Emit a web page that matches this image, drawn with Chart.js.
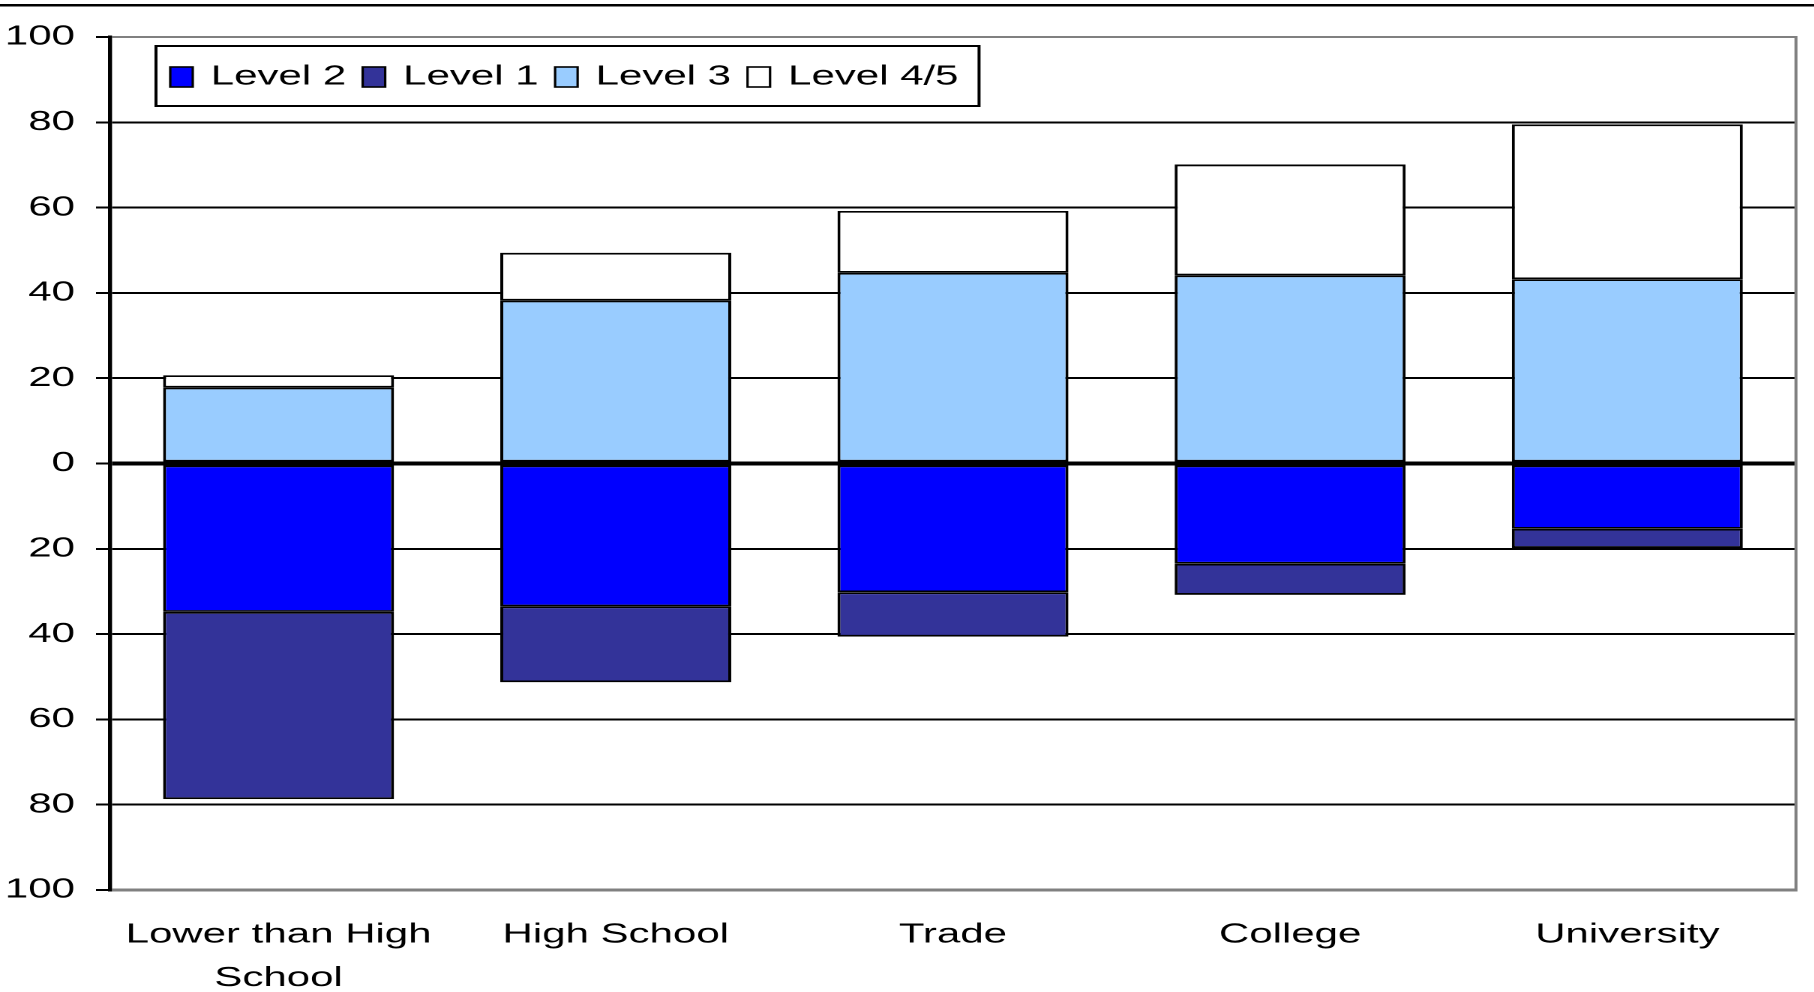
<!DOCTYPE html>
<html>
<head>
<meta charset="utf-8">
<script src="https://cdn.jsdelivr.net/npm/chart.js@4.4.1/dist/chart.umd.min.js"></script>
<style>
  html, body { margin: 0; padding: 0; background: #fff; overflow: hidden; }
  #wrap { width: 1209px; height: 992px; transform: scaleX(1.5); transform-origin: 0 0; }
  canvas { display: block; }
</style>
</head>
<body>
<div id="wrap"><canvas id="c" width="1209" height="992"></canvas></div>
<script>
// Education categories
const categories = [["Lower than High", "School"], "High School", "Trade", "College", "University"];

// Share of adults at each literacy level (%); lower levels plotted below zero
const level2  = [-34.8, -33.5, -30.2, -23.5, -15.3];
const level1  = [-43.9, -17.8, -10.4,  -7.3,  -4.5];
const level3  = [ 17.8,  38.2,  44.7,  44.1,  43.2];
const level45 = [  2.9,  11.2,  14.5,  26.0,  36.3];

const seriesNames = ["Level 2", "Level 1", "Level 3", "Level 4/5"];
const seriesColors = ["#0000FF", "#333399", "#99CCFF", "#FFFFFF"];

const yMin = -100, yMax = 100, yStep = 20;

const FONT = "'Liberation Sans', Arial, sans-serif";

function ds(i, data) {
  return {
    label: seriesNames[i],
    data: data,
    backgroundColor: seriesColors[i],
    borderColor: "#000",
    borderWidth: { top: 1.8, bottom: 1.8, left: 2, right: 2 },
    borderSkipped: false,
    barPercentage: 0.685,
    categoryPercentage: 1.0
  };
}

// Frame pieces: rule across the top of the figure and the grey right edge of the plot
const framePlugin = {
  id: "frame",
  afterDraw(chart) {
    const ctx = chart.ctx, a = chart.chartArea;
    ctx.save();
    ctx.fillStyle = "#000";
    ctx.fillRect(0, 4, chart.width, 2.5);
    ctx.strokeStyle = "#808080";
    ctx.lineWidth = 2;
    ctx.beginPath();
    ctx.moveTo(a.right, a.top - 1);
    ctx.lineTo(a.right, a.bottom + 1.5);
    ctx.stroke();
    ctx.restore();
  }
};

// Boxed legend inside the plot area
const boxLegend = {
  id: "boxLegend",
  afterDraw(chart) {
    const ctx = chart.ctx;
    const box = { x: 104, y: 46, w: 548.7, h: 60 };
    ctx.save();
    ctx.fillStyle = "#fff";
    ctx.fillRect(box.x, box.y, box.w, box.h);
    ctx.strokeStyle = "#000";
    ctx.lineWidth = 2;
    ctx.strokeRect(box.x, box.y, box.w, box.h);
    ctx.font = "28px " + FONT;
    ctx.textBaseline = "middle";
    ctx.textAlign = "left";
    const cy = box.y + box.h / 2 + 1;
    const sw = 15, sh = 20;
    let x = 113.5;
    chart.data.datasets.forEach(d => {
      ctx.fillStyle = d.backgroundColor;
      ctx.fillRect(x, cy - sh / 2, sw, sh);
      ctx.lineWidth = 1.6;
      ctx.strokeStyle = "#000";
      ctx.strokeRect(x, cy - sh / 2, sw, sh);
      ctx.fillStyle = "#000";
      ctx.fillText(d.label, x + 27, cy);
      x += 27 + ctx.measureText(d.label).width + 11;
    });
    ctx.restore();
  }
};

new Chart(document.getElementById("c"), {
  type: "bar",
  data: {
    labels: categories,
    datasets: [ds(0, level2), ds(1, level1), ds(2, level3), ds(3, level45)]
  },
  options: {
    responsive: false,
    devicePixelRatio: 2,
    animation: false,
    layout: { padding: { top: 37, right: 11.7, left: 0, bottom: 0 } },
    plugins: { legend: { display: false }, tooltip: { enabled: false } },
    scales: {
      x: {
        stacked: true,
        grid: { display: false, drawTicks: false },
        border: { display: false },
        ticks: {
          color: "#000",
          font: { family: FONT, size: 28, lineHeight: 1.55 },
          padding: 23,
          maxRotation: 0,
          autoSkip: false
        },
        afterFit(scale) { scale.height = 102; }
      },
      y: {
        stacked: true,
        min: yMin,
        max: yMax,
        ticks: {
          stepSize: yStep,
          color: "#000",
          font: { family: FONT, size: 28 },
          padding: 14,
          callback: v => String(Math.abs(v))
        },
        grid: {
          color: c => (c.tick && Math.abs(c.tick.value) === 100) ? "#808080" : "#000",
          lineWidth: c => {
            if (!c.tick) return 2;
            if (c.tick.value === 0) return 4;
            if (c.tick.value === -100) return 3;
            return 2;
          },
          tickColor: "#000",
          tickLength: 9.3,
          tickWidth: 2
        },
        border: { display: true, color: "#000", width: 2.7 },
        afterFit(scale) { scale.width = 73.3; }
      }
    }
  },
  plugins: [framePlugin, boxLegend]
});
</script>
</body>
</html>
